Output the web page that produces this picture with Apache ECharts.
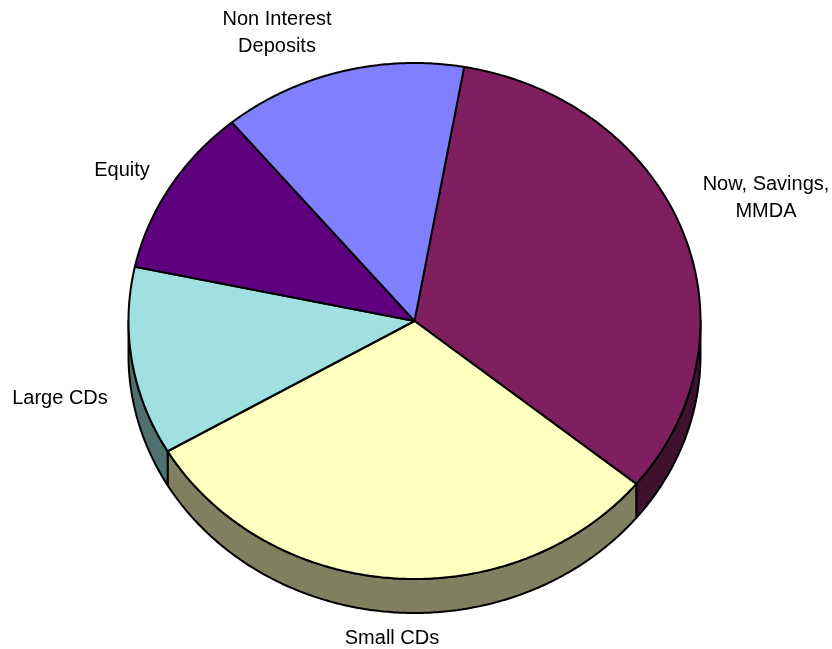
<!DOCTYPE html>
<html>
<head>
<meta charset="utf-8">
<script src="https://cdn.jsdelivr.net/npm/echarts@6/dist/echarts.min.js"></script>
<style>
html,body{margin:0;padding:0;background:#fff;}
#chart{width:832px;height:649px;}
</style>
</head>
<body>
<div id="chart"></div>
<script>
// Data (clockwise from the top)
const categories = ['Now, Savings,\nMMDA', 'Small CDs', 'Large CDs', 'Equity', 'Non Interest\nDeposits'];
const shares = [33.1, 30.7, 11.8, 10.6, 13.8];

// Styles / layout
const topColors = ['#7f1f5f', '#ffffc0', '#a0e0e0', '#5f007f', '#8080ff'];
const sideColors = ['#40102f', '#808060', '#507070', '#30003f', '#404080'];
const labelPos = [[766, 198], [392, 638], [60, 398], [122, 170], [277, 33]];
const START = 10;            // degrees, clockwise from 12 o'clock
const CX = 414.5, CY = 321, RX = 286, RY = 258, DEPTH = 34;

const total = shares.reduce((a, b) => a + b, 0);
const starts = [];
{ let acc = START; shares.forEach(v => { starts.push(acc); acc += v / total * 360; }); }

function pt(tDeg, dy) {
  const r = tDeg * Math.PI / 180;
  return [CX + RX * Math.sin(r), CY - RY * Math.cos(r) + (dy || 0)];
}
function arc(a1, a2, dy) {
  const pts = [];
  const n = Math.max(2, Math.ceil(Math.abs(a2 - a1) / 0.5));
  for (let i = 0; i <= n; i++) pts.push(pt(a1 + (a2 - a1) * i / n, dy));
  return pts;
}

const chart = echarts.init(document.getElementById('chart'), null, {renderer: 'canvas'});

function renderItem(params, api) {
  const i = params.dataIndex;
  const v = api.value(0);
  const a1 = starts[i];
  const a2 = a1 + v / total * 360;
  const children = [];
  // side wall (front half only: 90..270 deg)
  const lo = Math.max(a1, 90), hi = Math.min(a2, 270);
  if (lo < hi) {
    const pts = arc(lo, hi, 0).concat(arc(hi, lo, DEPTH));
    children.push({
      type: 'polygon',
      shape: {points: pts},
      style: {fill: sideColors[i], stroke: '#000', lineWidth: 2, lineJoin: 'round'},
      z2: 1
    });
  }
  // top face
  const topPts = [[CX, CY]].concat(arc(a1, a2, 0));
  children.push({
    type: 'polygon',
    shape: {points: topPts},
    style: {fill: topColors[i], stroke: '#000', lineWidth: 2, lineJoin: 'round'},
    z2: 2
  });
  // label
  children.push({
    type: 'text',
    style: {
      text: categories[i],
      x: labelPos[i][0], y: labelPos[i][1],
      align: 'center', verticalAlign: 'middle',
      fontSize: 20, fontFamily: '"Liberation Sans", Arial, sans-serif',
      lineHeight: 27, fill: '#000'
    },
    z2: 3
  });
  return {type: 'group', children};
}

chart.setOption({
  animation: false,
  backgroundColor: '#fff',
  series: [{
    type: 'custom',
    coordinateSystem: 'none',
    data: shares.map(v => [v]),
    renderItem: renderItem
  }]
});
</script>
</body>
</html>
